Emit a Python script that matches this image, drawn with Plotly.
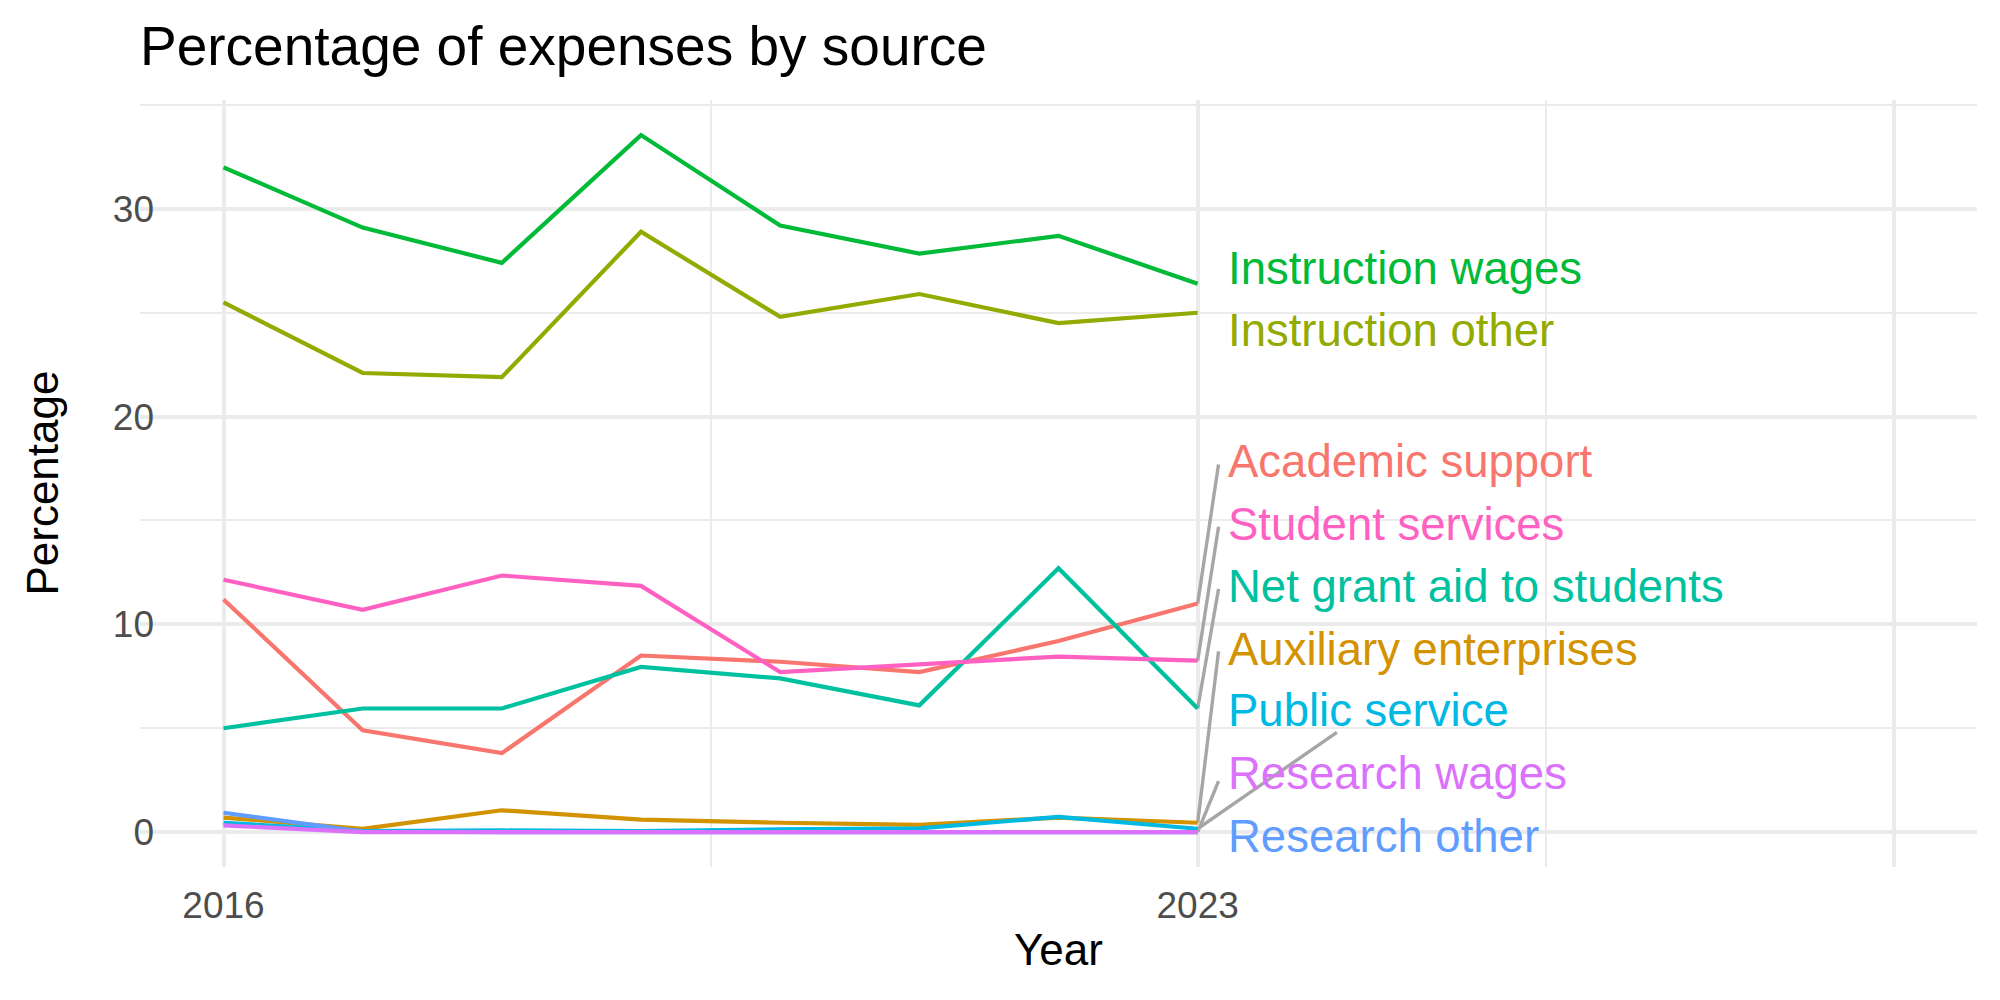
import plotly.graph_objects as go

years = [2016, 2017, 2018, 2019, 2020, 2021, 2022, 2023]

series_names = [
    "Academic support", "Auxiliary enterprises", "Instruction other",
    "Instruction wages", "Net grant aid to students", "Public service",
    "Research other", "Research wages", "Student services",
]

academic_support = [11.2, 4.9, 3.8, 8.5, 8.2, 7.7, 9.2, 11.0]
auxiliary_enterprises = [0.7, 0.16, 1.05, 0.6, 0.45, 0.35, 0.7, 0.45]
instruction_other = [25.5, 22.1, 21.9, 28.9, 24.8, 25.9, 24.5, 25.0]
instruction_wages = [32.0, 29.1, 27.4, 33.55, 29.2, 27.85, 28.7, 26.4]
net_grant_aid = [5.0, 5.95, 5.95, 7.95, 7.4, 6.1, 12.7, 5.95]
public_service = [0.45, 0.05, 0.08, 0.05, 0.13, 0.18, 0.73, 0.16]
research_other = [0.93, 0.03, 0.0, 0.0, 0.0, 0.0, 0.0, 0.0]
research_wages = [0.32, 0.0, 0.0, 0.0, 0.0, 0.0, 0.0, 0.0]
student_services = [12.15, 10.7, 12.35, 11.85, 7.7, 8.05, 8.45, 8.25]

values = [academic_support, auxiliary_enterprises, instruction_other,
          instruction_wages, net_grant_aid, public_service,
          research_other, research_wages, student_services]

colors = ["#F8766D", "#D39200", "#93AA00", "#00BA38", "#00C19F",
          "#00B9E3", "#619CFF", "#DB72FB", "#FF61C3"]

# repelled label positions (x, y) and leader-segment end points
label_x = 2023.2
label_y = [17.85, 8.8, 24.15, 27.15, 11.8, 5.85, -0.2, 2.8, 14.8]
seg_end_x = [2023.15, 2023.15, None, None, 2023.15, 2024.0, None, 2023.15, 2023.15]
seg_end_y = [17.7, 8.7, None, None, 11.7, 4.8, None, 2.45, 14.7]

FONT = "Liberation Sans, Arial, sans-serif"

fig = go.Figure()

# leader segments
for i, name in enumerate(series_names):
    if seg_end_x[i] is None:
        continue
    fig.add_trace(go.Scatter(
        x=[years[-1], seg_end_x[i]], y=[values[i][-1], seg_end_y[i]],
        mode="lines", line=dict(color="#A6A6A6", width=3.4),
        showlegend=False, hoverinfo="skip"))

for i, name in enumerate(series_names):
    fig.add_trace(go.Scatter(
        x=years, y=values[i], mode="lines", name=name,
        line=dict(color=colors[i], width=4.2), showlegend=False))

annotations = []
for i, name in enumerate(series_names):
    annotations.append(dict(
        x=label_x, y=label_y[i], xref="x", yref="y", text=name,
        showarrow=False, xanchor="left", yanchor="middle",
        font=dict(family=FONT, size=45.5, color=colors[i])))

annotations.append(dict(
    x=0.5, y=-0.1082, xref="paper", yref="paper", text="Year",
    showarrow=False, xanchor="center", yanchor="middle",
    font=dict(family=FONT, size=44, color="black")))
annotations.append(dict(
    x=-0.0533, y=0.5, xref="paper", yref="paper", text="Percentage",
    showarrow=False, xanchor="center", yanchor="middle", textangle=-90,
    font=dict(family=FONT, size=44, color="black")))

grid = "#EBEBEB"
fig.update_layout(
    width=2000, height=1000,
    paper_bgcolor="white", plot_bgcolor="white",
    margin=dict(l=140, r=23, t=100, b=133),
    title=dict(text="Percentage of expenses by source", x=0, xref="paper",
               xanchor="left", y=0.954, yref="container", yanchor="middle",
               font=dict(family=FONT, size=55, color="black")),
    annotations=annotations,
    xaxis=dict(range=[2015.4, 2028.6], tickmode="array",
               tickvals=[2016, 2023, 2028], ticktext=["2016", "2023", ""],
               showgrid=True, gridcolor=grid, gridwidth=4.2, zeroline=False,
               showline=False, ticks="", ticklabelstandoff=13,
               tickfont=dict(family=FONT, size=37, color="#4D4D4D"),
               minor=dict(tickmode="array", tickvals=[2019.5, 2025.5], showgrid=True,
                          gridcolor=grid, gridwidth=2.1)),
    yaxis=dict(range=[-1.68, 35.24], tickmode="array", tickvals=[0, 10, 20, 30],
               showgrid=True, gridcolor=grid, gridwidth=4.2, zeroline=False,
               showline=False, ticks="", ticklen=0, ticklabelstandoff=-15,
               tickfont=dict(family=FONT, size=37, color="#4D4D4D"),
               minor=dict(tickmode="array", tickvals=[5, 15, 25, 35], showgrid=True,
                          gridcolor=grid, gridwidth=2.1)),
)

fig.write_html("out.html")
